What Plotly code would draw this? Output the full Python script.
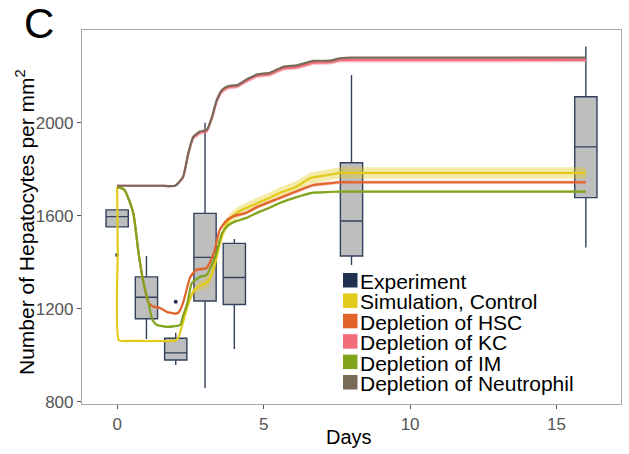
import plotly.graph_objects as go

# ---------------- data ----------------
box_days = [0, 1, 2, 3, 4, 8, 16]
box_low = [1553, 1071, 959, 860, 1028, 1389, 1464]
box_q1 = [1553, 1158, 980, 1234, 1219, 1428, 1679]
box_med = [1597, 1250, 1011, 1422, 1335, 1578, 1897]
box_q3 = [1626, 1338, 1074, 1611, 1482, 1829, 2113]
box_high = [1626, 1428, 1097, 2001, 1501, 2206, 2329]
outlier_days = [0, 2]
outlier_vals = [1432, 1231]

ctrl_days = [0, 0.02, 0.06, 0.5, 1, 1.5, 2.0, 2.1, 2.2, 2.3, 2.45, 2.6, 2.8, 3.05, 3.2, 3.35,
             3.5, 3.65, 3.85, 4.1, 4.4, 4.8, 5.2, 5.55, 6.1, 6.6, 7.2, 7.6, 8, 16]
ctrl_vals = [1725, 1450, 1065, 1063, 1062, 1062, 1064, 1080, 1120, 1166, 1230, 1275, 1298, 1312, 1340, 1400,
             1480, 1540, 1588, 1615, 1634, 1656, 1677, 1699, 1725, 1763, 1776, 1785, 1785, 1785]
ctrl_sd = [0, 0, 2, 2, 2, 2, 3, 4, 6, 8, 12, 16, 20, 24, 26, 26,
           25, 24, 24, 24, 24, 24, 24, 24, 24, 24, 24, 24, 24, 24]

hsc_days = [0, 0.25, 0.55, 0.73, 0.9, 1.07, 1.24, 1.47, 1.7, 2.0, 2.1, 2.25, 2.5, 2.7, 3.05, 3.3,
            3.5, 3.75, 4.0, 4.4, 4.8, 5.2, 5.55, 6.1, 6.7, 7.2, 7.6, 8, 16]
hsc_vals = [1725, 1712, 1613, 1441, 1312, 1226, 1209, 1204, 1187, 1180, 1185, 1226, 1338, 1368, 1376, 1441,
            1540, 1583, 1600, 1613, 1640, 1660, 1677, 1705, 1733, 1740, 1745, 1745, 1745]
hsc_sd = [0, 1, 2, 3, 4, 5, 6, 6, 6, 6, 6, 7, 8, 8, 8, 8,
          8, 8, 8, 8, 8, 8, 8, 8, 8, 8, 8, 8, 8]

kc_days = [0, 0.5, 1, 1.5, 1.98, 2.25, 2.43, 2.6, 2.83, 3.06, 3.24, 3.4, 3.58, 3.8, 4.1, 4.43,
           4.78, 5.22, 5.67, 6.14, 6.7, 7.27, 7.6, 7.95, 16]
kc_vals = [1730, 1730, 1730, 1730, 1730, 1766, 1867, 1937, 1959, 1966, 2022, 2094, 2137, 2154, 2158, 2183,
           2203, 2210, 2235, 2240, 2259, 2262, 2270, 2271, 2271]
kc_sd = [0, 0, 0, 0, 1, 4, 8, 10, 10, 10, 10, 10, 10, 10, 10, 10,
         10, 10, 10, 10, 10, 10, 10, 10, 10]

im_days = [0, 0.25, 0.55, 0.73, 0.9, 1.07, 1.2, 1.36, 1.7, 2.15, 2.25, 2.4, 2.55, 2.83, 3.05, 3.35,
           3.58, 3.8, 4.0, 4.4, 4.8, 5.2, 5.55, 6.1, 6.7, 7.2, 7.6, 8, 16]
im_vals = [1725, 1712, 1613, 1441, 1312, 1226, 1153, 1131, 1123, 1131, 1170, 1226, 1312, 1338, 1346, 1424,
           1527, 1560, 1575, 1591, 1615, 1635, 1656, 1680, 1700, 1703, 1705, 1705, 1705]
im_sd = [0, 1, 2, 3, 4, 4, 4, 4, 4, 4, 5, 5, 6, 6, 6, 6,
         5, 5, 5, 5, 5, 5, 5, 5, 5, 5, 5, 5, 5]

neu_days = [0, 0.5, 1, 1.5, 1.98, 2.25, 2.43, 2.6, 2.83, 3.06, 3.24, 3.4, 3.58, 3.8, 4.1, 4.43,
            4.78, 5.22, 5.67, 6.14, 6.7, 7.27, 7.6, 7.95, 16]
neu_vals = [1730, 1730, 1730, 1730, 1730, 1769, 1871, 1941, 1963, 1970, 2027, 2099, 2142, 2159, 2163, 2188,
            2209, 2216, 2242, 2248, 2267, 2268, 2278, 2281, 2281]

legend_labels = ["Experiment", "Simulation, Control", "Depletion of HSC",
                 "Depletion of KC", "Depletion of IM", "Depletion of Neutrophil"]

x_ticks = [0, 5, 10, 15]
y_ticks = [800, 1200, 1600, 2000]

# ---------------- styles ----------------
C_EXP = "#1f3050"
C_CTRL = "#e3cb1c"
C_HSC = "#e0642a"
C_KC = "#f26c7a"
C_IM = "#82a41c"
C_NEU = "#7a6a58"
legend_colors = [C_EXP, C_CTRL, C_HSC, C_KC, C_IM, C_NEU]
FONT = "Liberation Sans, Arial, sans-serif"

fig = go.Figure()

fig.add_trace(go.Box(
    x=box_days, q1=box_q1, median=box_med, q3=box_q3,
    lowerfence=box_low, upperfence=box_high,
    width=0.76, whiskerwidth=0, fillcolor="#bebebe",
    line=dict(color="#34415e", width=1.4), boxpoints=False,
    showlegend=False, hoverinfo="skip"))

fig.add_trace(go.Scatter(
    x=outlier_days, y=outlier_vals, mode="markers",
    marker=dict(color=C_EXP, size=4), showlegend=False))


def add_series(days, vals, sd, color, band_rgba):
    if sd is not None:
        upper = [v + s for v, s in zip(vals, sd)]
        lower = [v - s for v, s in zip(vals, sd)]
        fig.add_trace(go.Scatter(
            x=list(days) + list(days)[::-1], y=upper + lower[::-1],
            fill="toself", fillcolor=band_rgba, line=dict(width=0),
            mode="lines", showlegend=False, hoverinfo="skip"))
    fig.add_trace(go.Scatter(
        x=days, y=vals, mode="lines",
        line=dict(color=color, width=2.2, shape="spline", smoothing=0.5),
        showlegend=False))


add_series(ctrl_days, ctrl_vals, ctrl_sd, C_CTRL, "rgba(227,203,28,0.38)")
add_series(hsc_days, hsc_vals, hsc_sd, C_HSC, "rgba(232,110,90,0.35)")
add_series(kc_days, kc_vals, kc_sd, C_KC, "rgba(242,108,122,0.45)")
add_series(im_days, im_vals, im_sd, C_IM, "rgba(130,164,28,0.35)")
add_series(neu_days, neu_vals, None, C_NEU, None)

# plot area in pixels
L, R, T, B = 82, 621, 30, 404
W, H = 629, 454


def px(x):
    return (x - L) / (R - L)


def py(y):
    return (B - y) / (B - T)


shapes = []
annotations = []
for i, (lab, col) in enumerate(zip(legend_labels, legend_colors)):
    top = 273 + i * 20.4
    shapes.append(dict(type="rect", xref="paper", yref="paper",
                       x0=px(343), x1=px(357.5), y0=py(top + 14.5), y1=py(top),
                       fillcolor=col, line=dict(width=0)))
    annotations.append(dict(text=lab, xref="paper", yref="paper",
                            x=px(357.5), y=py(top + 8.5), xanchor="left", yanchor="middle",
                            showarrow=False, font=dict(family=FONT, size=21, color="#000000")))

annotations.append(dict(text="Number of Hepatocytes per mm<sup>2</sup>", xref="paper", yref="paper",
                        x=px(25), y=py(222), xanchor="center", yanchor="middle", textangle=-90,
                        showarrow=False, font=dict(family=FONT, size=21, color="#000000")))
annotations.append(dict(text="Days", xref="paper", yref="paper",
                        x=px(349), y=py(437), xanchor="center", yanchor="middle",
                        showarrow=False, font=dict(family=FONT, size=20, color="#000000")))
annotations.append(dict(text="C", xref="paper", yref="paper",
                        x=px(39), y=py(24), xanchor="center", yanchor="middle",
                        showarrow=False, font=dict(family=FONT, size=42, color="#000000")))

axis_common = dict(showgrid=False, zeroline=False, showline=True, mirror=True,
                   linecolor="#a8a8a8", linewidth=1.2, ticks="outside", ticklen=4,
                   tickcolor="#555555", tickfont=dict(family=FONT, size=17, color="#555555"))

fig.update_layout(
    width=W, height=H,
    margin=dict(l=L, r=W - R, t=T, b=H - B),
    paper_bgcolor="white", plot_bgcolor="white",
    showlegend=False,
    xaxis=dict(range=[-1.2, 17.2], tickvals=x_ticks, **axis_common),
    yaxis=dict(range=[791, 2400], tickvals=y_ticks, **axis_common),
    shapes=shapes, annotations=annotations,
)

fig.write_html("out.html", config={"displayModeBar": False},
               post_script="document.body.style.margin='0';")
